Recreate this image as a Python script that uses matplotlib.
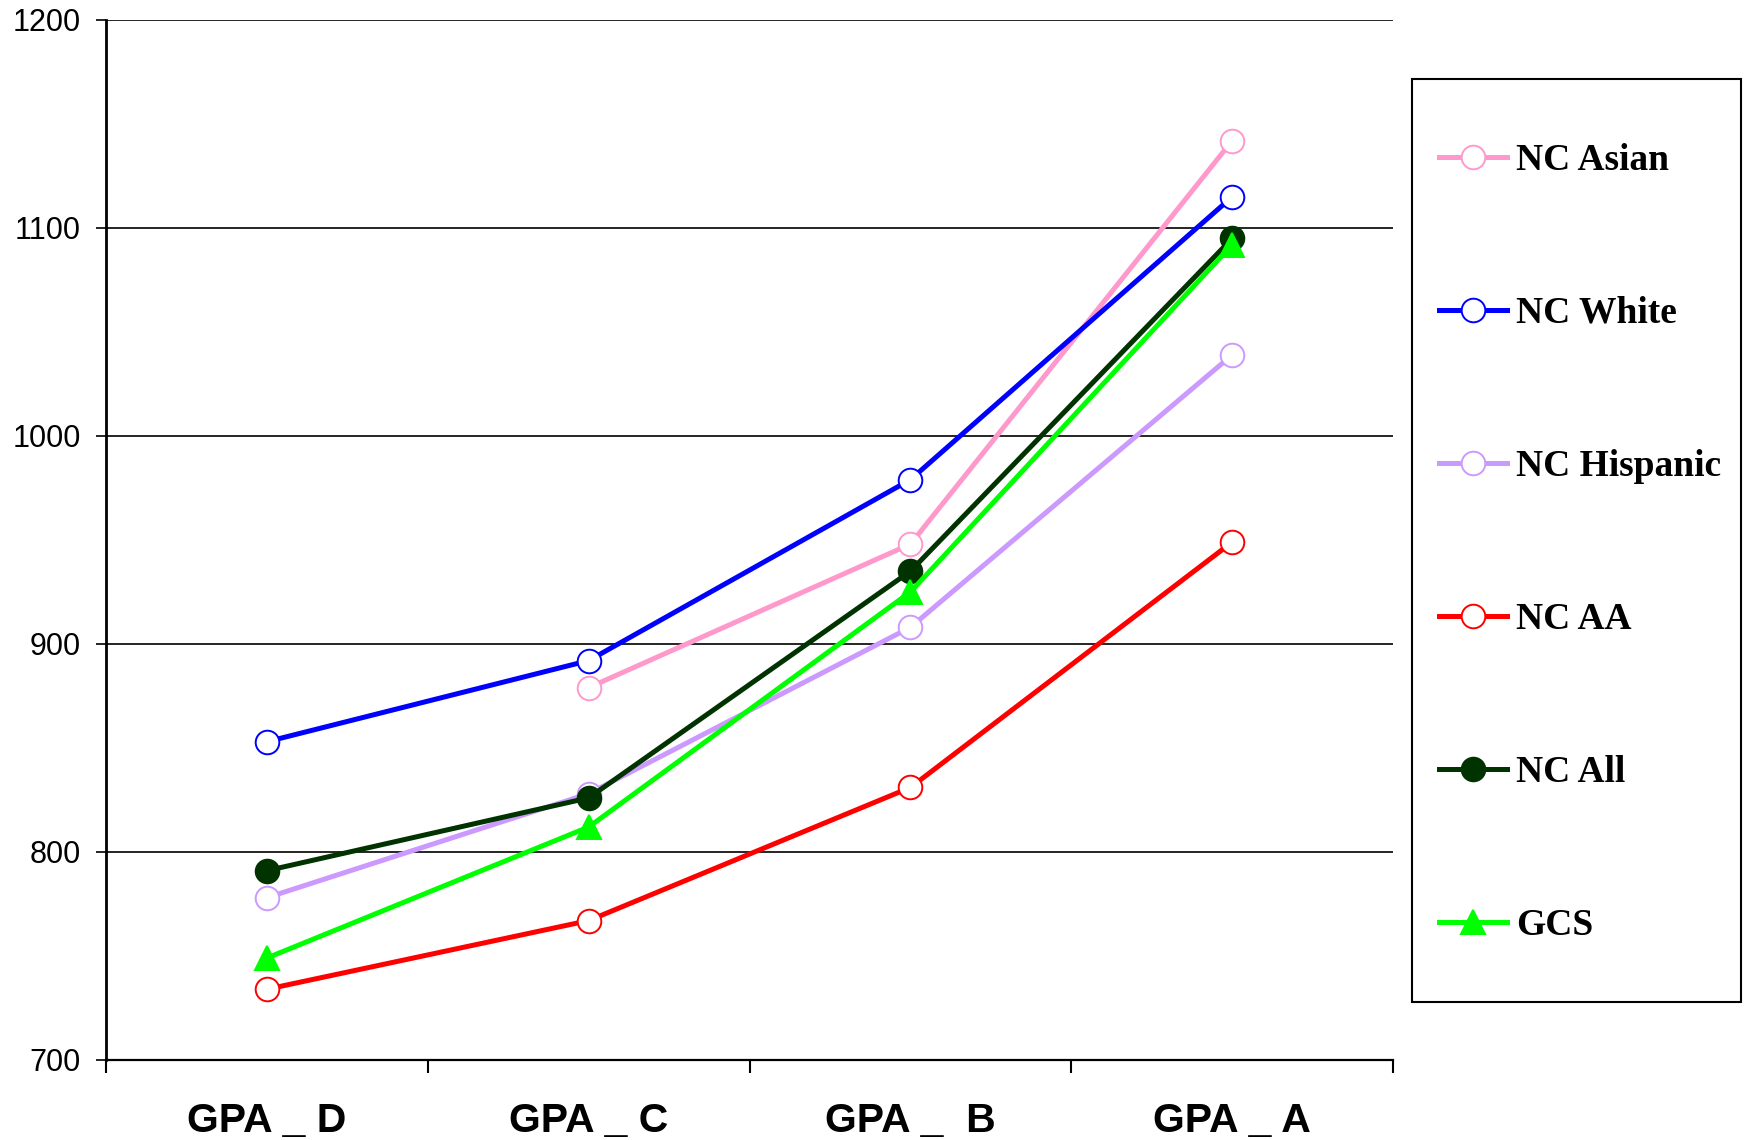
import matplotlib.pyplot as plt
from matplotlib.patches import Rectangle

# -----------------------------
# Data
# -----------------------------
categories = ["GPA _ D", "GPA _ C", "GPA _  B", "GPA _ A"]

nc_asian = [None, 879, 948, 1142]
nc_white = [853, 892, 979, 1115]
nc_hispanic = [778, 828, 908, 1039]
nc_aa = [734, 767, 831, 949]
nc_all = [791, 826, 935, 1095]
gcs = [749, 812, 925, 1092]

series = [
    ("NC Asian", nc_asian, "#FF99CC", "o", "white"),
    ("NC White", nc_white, "#0000FF", "o", "white"),
    ("NC Hispanic", nc_hispanic, "#CC99FF", "o", "white"),
    ("NC AA", nc_aa, "#FF0000", "o", "white"),
    ("NC All", nc_all, "#003300", "o", "#003300"),
    ("GCS", gcs, "#00FF00", "^", "#00FF00"),
]

fig = plt.figure(figsize=(17.48, 11.40), dpi=100)
ax = fig.add_axes([0.0606, 0.0702, 0.7364, 0.9123])

x = list(range(len(categories)))
for label, vals, color, marker, face in series:
    xs = [i for i, v in zip(x, vals) if v is not None]
    ys = [v for v in vals if v is not None]
    ax.plot(xs, ys, color=color, lw=3.6, marker=marker, ms=17,
            mfc=face, mec=color, mew=1.4, label=label)

ax.set_xlim(-0.5, 3.5)
ax.set_ylim(700, 1200)
ax.set_yticks([700, 800, 900, 1000, 1100, 1200])
ax.yaxis.grid(True, color="black", lw=1.2)
ax.set_axisbelow(True)

ax.set_xticks(x)
ax.set_xticklabels(categories, fontsize=29.5, fontweight="bold",
                   family="Liberation Sans")
ax.set_xticks([-0.5, 0.5, 1.5, 2.5, 3.5], minor=True)
ax.tick_params(axis="x", which="major", length=0, pad=30)
ax.tick_params(axis="x", which="minor", length=9, width=1.5, direction="out")
ax.tick_params(axis="y", length=7, width=1.2, pad=11, labelsize=22)
for t in ax.get_yticklabels():
    t.set_family("Liberation Sans")

ax.spines["top"].set_visible(False)
ax.spines["right"].set_visible(False)
ax.spines["left"].set_linewidth(2)
ax.spines["bottom"].set_linewidth(1.6)

# legend frame drawn separately
fig.patches.append(Rectangle((1412 / 1748, 1 - 1002 / 1140), 329 / 1748, 923 / 1140,
                             transform=fig.transFigure, fill=False,
                             edgecolor="black", lw=1.5))
fig.legend(loc="center left", bbox_to_anchor=(1424 / 1748, 0.5236),
           frameon=False, handlelength=1.8, handletextpad=0.25,
           labelspacing=3.15, borderaxespad=0,
           prop={"family": "Liberation Serif", "weight": "bold", "size": 27})

fig.savefig("out.png", dpi=100)
